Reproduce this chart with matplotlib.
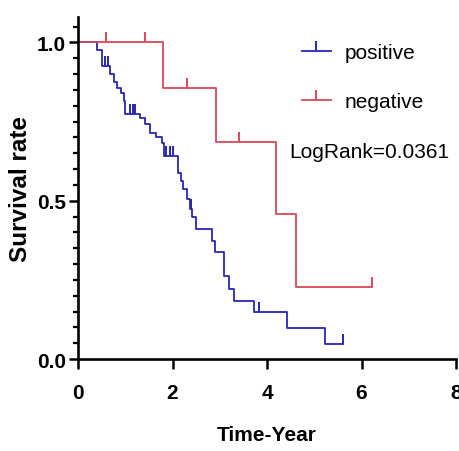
import numpy as np
import matplotlib
matplotlib.use("Agg")
import matplotlib.pyplot as plt
from matplotlib.ticker import MultipleLocator
from matplotlib.lines import Line2D

plt.rcParams['font.family'] = ['Liberation Sans', 'DejaVu Sans']

# Kaplan-Meier steps (time of drop, survival after drop)
pos_times = [0.40, 0.50, 0.68, 0.76, 0.82, 0.92, 0.97, 1.00, 1.31, 1.42, 1.52, 1.66,
             1.77, 1.81, 2.12, 2.19, 2.23, 2.30, 2.36, 2.41, 2.50, 2.83, 2.90, 3.10,
             3.20, 3.31, 3.72, 4.42, 5.23]
pos_surv = [0.975, 0.925, 0.900, 0.875, 0.857, 0.840, 0.815, 0.773, 0.762, 0.741, 0.715, 0.700,
            0.683, 0.641, 0.589, 0.563, 0.536, 0.505, 0.473, 0.447, 0.410, 0.373, 0.337, 0.261,
            0.221, 0.182, 0.149, 0.097, 0.047]
pos_end = 5.61
pos_cens_t = [0.57, 0.64, 1.11, 1.16, 1.21, 1.86, 1.95, 2.02, 2.39, 3.82, 5.61]
pos_cens_s = [0.925, 0.925, 0.773, 0.773, 0.773, 0.641, 0.641, 0.641, 0.473, 0.149, 0.047]

neg_times = [1.80, 2.91, 4.20, 4.61]
neg_surv = [0.857, 0.686, 0.457, 0.229]
neg_end = 6.23
neg_cens_t = [0.60, 1.42, 2.30, 3.41, 6.23]
neg_cens_s = [1.0, 1.0, 0.857, 0.686, 0.229]

blue = '#2626b4'
red = '#d9485a'


def km_xy(times, surv, end): #build step coordinates starting at (0,1)
    x = [0] + list(times) + [end]
    y = [1.0] + list(surv) + [surv[-1]]
    return x, y


fig = plt.figure(figsize=(4.6, 4.52), dpi=100)
ax = fig.add_axes([0.1696, 0.2035, 0.8217, 0.7566])

x, y = km_xy(pos_times, pos_surv, pos_end)
ax.step(x, y, where='post', color=blue, lw=1.3)
ax.plot(pos_cens_t, pos_cens_s, ls='none', marker=2, ms=7, mew=1.4, color=blue)

x, y = km_xy(neg_times, neg_surv, neg_end)
ax.step(x, y, where='post', color=red, lw=1.3)
ax.plot(neg_cens_t, neg_cens_s, ls='none', marker=2, ms=7, mew=1.4, color=red)

ax.set_xlim(0, 8)
ax.set_ylim(0, 1.08)
ax.set_xticks([0, 2, 4, 6, 8])
ax.set_yticks([0.0, 0.5, 1.0])
ax.set_yticklabels(['0.0', '0.5', '1.0'])
ax.yaxis.set_minor_locator(MultipleLocator(0.05))

for s in ['top', 'right']:
    ax.spines[s].set_visible(False)
for s in ['left', 'bottom']:
    ax.spines[s].set_linewidth(1.9)
    ax.spines[s].set_capstyle('projecting')

ax.tick_params(axis='x', which='major', length=7.5, width=1.8, labelsize=15, pad=10)
ax.tick_params(axis='y', which='major', length=6.5, width=1.8, labelsize=15, pad=2)
ax.tick_params(axis='y', which='minor', length=3.5, width=1.6)
for lab in ax.get_xticklabels() + ax.get_yticklabels():
    lab.set_fontweight('bold')

ax.set_xlabel('Time-Year', fontsize=15, fontweight='bold', labelpad=16)
ax.set_ylabel('Survival rate', fontsize=17.5, fontweight='bold', labelpad=4)

handles = [Line2D([], [], color=blue, lw=1.3, marker=2, ms=7, mew=1.4),
           Line2D([], [], color=red, lw=1.3, marker=2, ms=7, mew=1.4)]
ax.legend(handles, ['positive', 'negative'], loc='upper left', bbox_to_anchor=(0.542, 0.979),
          frameon=False, fontsize=15, handlelength=1.4, handletextpad=0.65, labelspacing=1.45,
          numpoints=1)

ax.text(0.56, 0.608, 'LogRank=0.0361', transform=ax.transAxes, fontsize=15,
        ha='left', va='center')

plt.savefig('out.png', dpi=100)
